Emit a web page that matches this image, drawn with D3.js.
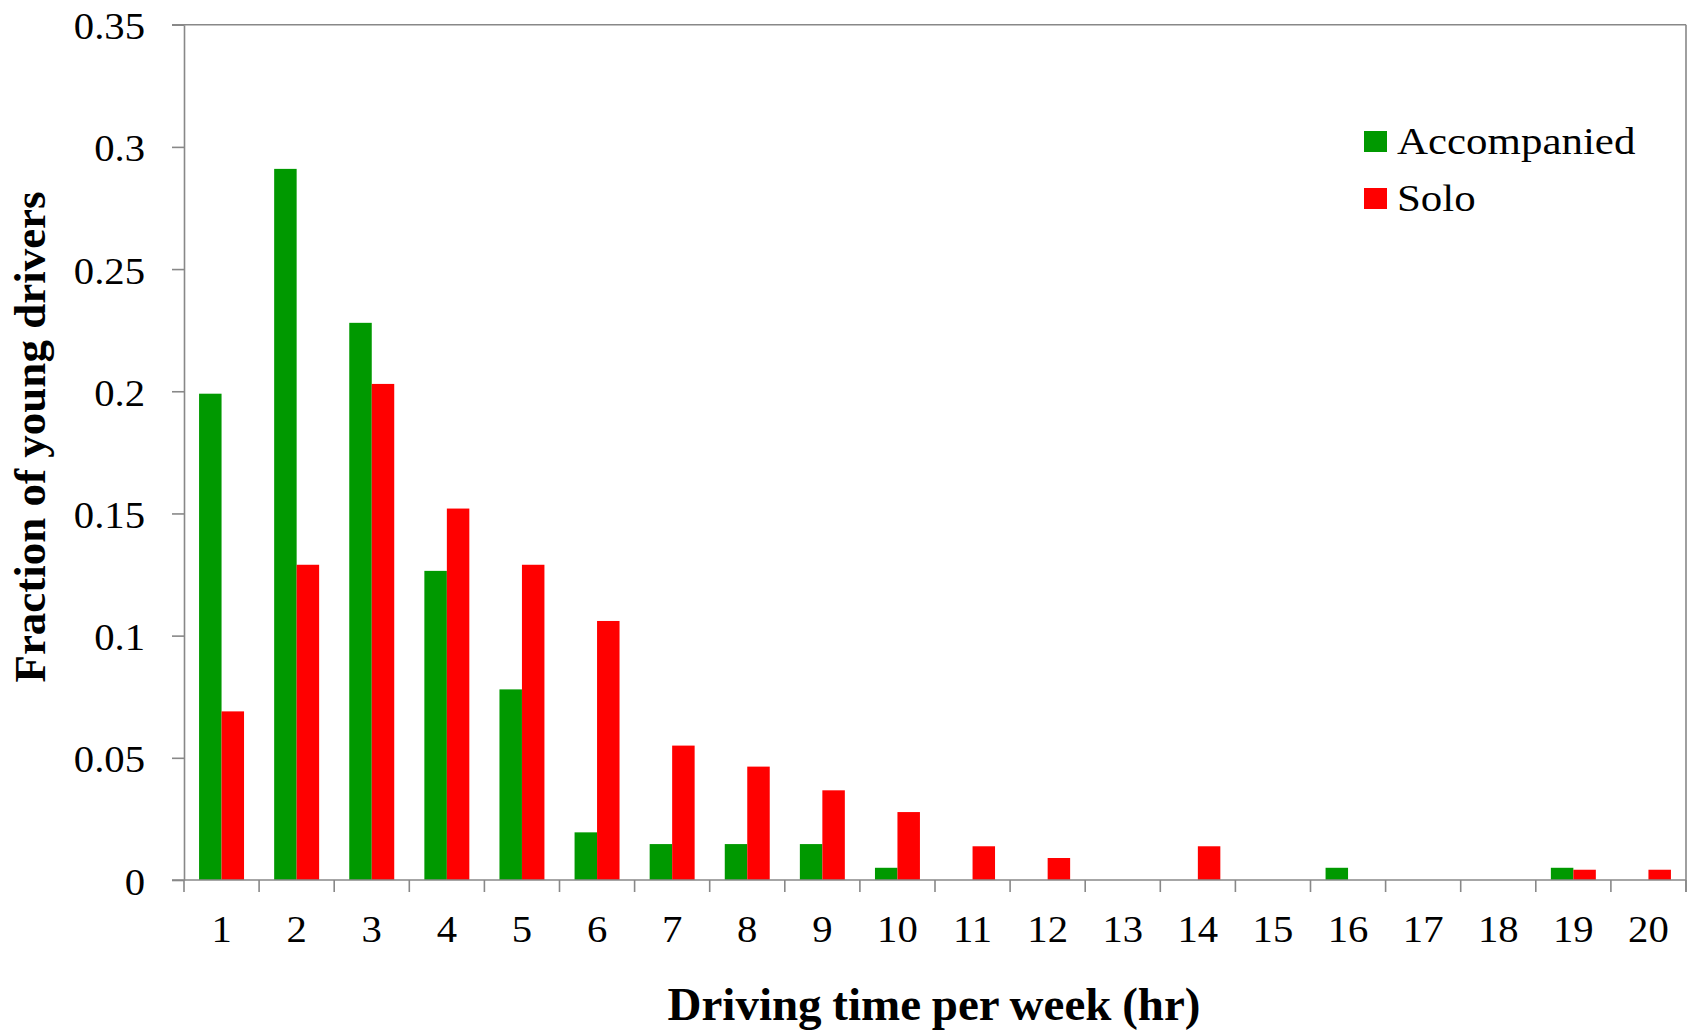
<!DOCTYPE html>
<html>
<head>
<meta charset="utf-8">
<script src="https://cdn.jsdelivr.net/npm/d3@7"></script>
<style>
  body { margin: 0; background: #fff; }
  svg text { font-family: 'Liberation Serif', 'Times New Roman', Times, serif; fill: #000; }
</style>
</head>
<body>
<svg id="chart" width="1692" height="1030"></svg>
<script>
// data
var categories = ["1","2","3","4","5","6","7","8","9","10","11","12","13","14","15","16","17","18","19","20"];
var seriesNames = ["Accompanied", "Solo"];
var accompanied = [0.199, 0.291, 0.228, 0.1265, 0.078, 0.0195, 0.0147, 0.0147, 0.0147, 0.005, 0, 0, 0, 0, 0, 0.005, 0, 0, 0.005, 0];
var solo = [0.069, 0.129, 0.203, 0.152, 0.129, 0.106, 0.055, 0.0464, 0.0367, 0.0278, 0.0138, 0.009, 0, 0.0138, 0, 0, 0, 0, 0.0042, 0.0042];
var yTicks = [0, 0.05, 0.1, 0.15, 0.2, 0.25, 0.3, 0.35];

var colors = {"Accompanied": "#009900", "Solo": "#ff0000"};
var axisColor = "#888";
var serif = "'Liberation Serif', 'Times New Roman', Times, serif";

var margin = {top: 24.7, left: 184, right: 6, bottom: 150},
    width = 1692, height = 1030;

var svg = d3.select("#chart");

var rows = categories.map(function(c, i) {
    return {cat: c, values: [
        {name: "Accompanied", value: accompanied[i]},
        {name: "Solo", value: solo[i]}
    ]};
});

var x = d3.scaleBand()
    .domain(categories)
    .range([margin.left, width - margin.right])
    .paddingInner(0).paddingOuter(0);

var x1 = d3.scaleBand()
    .domain(seriesNames)
    .range([0, x.bandwidth()])
    .paddingInner(0)
    .paddingOuter(0.67);

var y = d3.scaleLinear()
    .domain([0, 0.35])
    .range([880, margin.top]);

// bars
var groups = svg.append("g").attr("class", "bars")
    .selectAll("g").data(rows)
    .enter().append("g")
    .attr("transform", function(d) { return "translate(" + x(d.cat) + ",0)"; });

groups.selectAll("rect").data(function(d) { return d.values; })
    .enter().append("rect")
    .attr("x", function(d) { return x1(d.name); })
    .attr("y", function(d) { return y(d.value); })
    .attr("width", x1.bandwidth())
    .attr("height", function(d) { return y(0) - y(d.value); })
    .attr("fill", function(d) { return colors[d.name]; });

// frame: top and right
var x0 = x.range()[0], xEnd = x.range()[1];
svg.append("line")
    .attr("x1", x0 - 12).attr("x2", xEnd)
    .attr("y1", y(0.35)).attr("y2", y(0.35))
    .attr("stroke", axisColor).attr("stroke-width", 1.6);
svg.append("line")
    .attr("x1", xEnd).attr("x2", xEnd)
    .attr("y1", y(0.35)).attr("y2", y(0) + 12)
    .attr("stroke", axisColor).attr("stroke-width", 1.6);

// y axis
var yAxis = svg.append("g")
    .attr("transform", "translate(" + x0 + ",0)")
    .call(d3.axisLeft(y).tickValues(yTicks).tickSize(12).tickSizeOuter(0)
        .tickFormat(function(d) { return d === 0 ? "0" : String(+d.toFixed(2)); }));
yAxis.attr("font-family", serif);
yAxis.select(".domain").attr("stroke", axisColor).attr("stroke-width", 1.6);
yAxis.selectAll(".tick line").attr("stroke", axisColor).attr("stroke-width", 1.6);
yAxis.selectAll(".tick text")
    .style("font-family", serif)
    .attr("font-size", 37)
    .attr("fill", "#000")
    .attr("x", -39 / 1.1)
    .attr("dy", "0.38em")
    .attr("transform", "scale(1.1,1)");

// x axis: labels at band centres, ticks at band edges
var xAxis = svg.append("g")
    .attr("transform", "translate(0," + y(0) + ")")
    .call(d3.axisBottom(x).tickSize(0).tickSizeOuter(0));
xAxis.attr("font-family", serif);
xAxis.select(".domain").remove();
xAxis.selectAll(".tick text")
    .style("font-family", serif)
    .attr("font-size", 37)
    .attr("fill", "#000")
    .attr("y", 62)
    .attr("dy", null)
    .attr("transform", "scale(1.1,1)");

var edges = categories.map(function(c) { return x(c); }).concat([xEnd]);
svg.append("line")
    .attr("x1", x0 - 12).attr("x2", xEnd)
    .attr("y1", y(0)).attr("y2", y(0))
    .attr("stroke", axisColor).attr("stroke-width", 1.6);
svg.append("g").selectAll("line").data(edges)
    .enter().append("line")
    .attr("x1", function(d) { return d; }).attr("x2", function(d) { return d; })
    .attr("y1", y(0)).attr("y2", y(0) + 12)
    .attr("stroke", axisColor).attr("stroke-width", 1.6);

// axis titles
svg.append("text")
    .attr("x", 934).attr("y", 1020)
    .attr("text-anchor", "middle")
    .style("font-family", serif)
    .attr("font-weight", "bold")
    .attr("font-size", 47)
    .attr("word-spacing", -1)
    .text("Driving time per week (hr)");

svg.append("text")
    .attr("transform", "translate(45,437) rotate(-90)")
    .attr("text-anchor", "middle")
    .style("font-family", serif)
    .attr("font-weight", "bold")
    .attr("font-size", 45)
    .text("Fraction of young drivers");

// legend
var legend = svg.append("g").attr("transform", "translate(1364,131)");
var item = legend.selectAll("g").data(seriesNames)
    .enter().append("g")
    .attr("transform", function(d, i) { return "translate(0," + (i * 57) + ")"; });
item.append("rect")
    .attr("width", 23).attr("height", 21)
    .attr("fill", function(d) { return colors[d]; });
item.append("text")
    .attr("transform", "translate(33,23) scale(1.13,1)")
    .style("font-family", serif)
    .attr("font-size", 38)
    .text(function(d) { return d; });
</script>
</body>
</html>
